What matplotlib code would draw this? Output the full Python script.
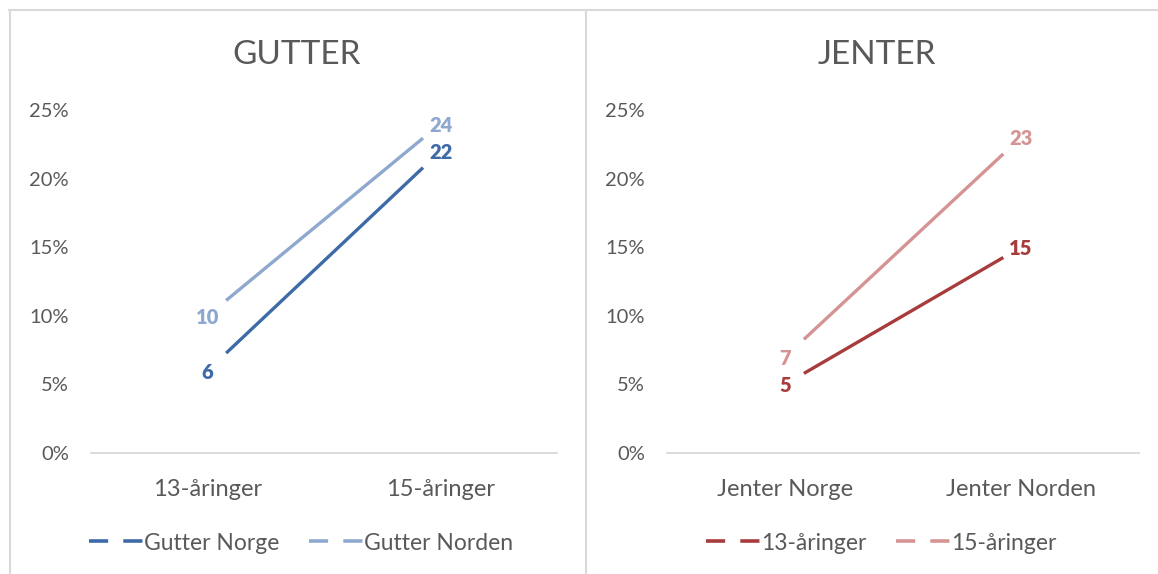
import matplotlib
matplotlib.use("Agg")
import matplotlib.pyplot as plt
from matplotlib.lines import Line2D
from matplotlib.ticker import FuncFormatter

plt.rcParams['font.family'] = ['Lato', 'DejaVu Sans']

# ---- data ----
gutter_categories = ["13-åringer", "15-åringer"]
gutter_norge = [6, 22]
gutter_norden = [10, 24]

jenter_categories = ["Jenter Norge", "Jenter Norden"]
jenter_13 = [5, 15]
jenter_15 = [7, 23]

y_ticks = [0, 5, 10, 15, 20, 25]

C_GN = "#3e6ba7"
C_GNo = "#8ea8cf"
C_J13 = "#a83b3b"
C_J15 = "#d69393"
TXT = "#595959"
GRID = "#d9d9d9"

W, H = 1158, 574
fig = plt.figure(figsize=(W / 100, H / 100), dpi=100)


def px_axes(x0, x1, ytop, ybot):
    return fig.add_axes([x0 / W, (H - ybot) / H, (x1 - x0) / W, (ybot - ytop) / H])


def draw_panel(ax, cats, series, colors):
    ax.set_xlim(-0.5, 1.5)
    ax.set_ylim(0, 25)
    ax.set_yticks(y_ticks)
    ax.yaxis.set_major_formatter(FuncFormatter(lambda v, p: f"{v:.0f}%"))
    ax.set_xticks(range(len(cats)))
    ax.set_xticklabels(cats)
    for s in ["top", "right", "left"]:
        ax.spines[s].set_visible(False)
    ax.spines["bottom"].set_color(GRID)
    ax.spines["bottom"].set_linewidth(1.3)
    ax.tick_params(axis="both", length=0, colors=TXT)
    ax.tick_params(axis="y", labelsize=14.5, pad=16)
    ax.tick_params(axis="x", labelsize=17, pad=19)
    t0, t1 = 0.08, 0.925
    for vals, col in zip(series, colors):
        xa, xb = 0, 1
        ya, yb = vals[0], vals[1]
        xs = [xa + t0 * (xb - xa), xa + t1 * (xb - xa)]
        ys = [ya + t0 * (yb - ya), ya + t1 * (yb - ya)]
        ax.plot(xs, ys, color=col, lw=2.4, solid_capstyle="butt")
        for xi, v in enumerate(vals):
            ax.text(xi, v, f"{v}", color=col, fontsize=14.5, fontweight="heavy",
                    ha="center", va="center_baseline")
    ax.patch.set_alpha(0)


axL = px_axes(91, 557, 110, 453)
draw_panel(axL, gutter_categories, [gutter_norge, gutter_norden], [C_GN, C_GNo])
axR = px_axes(667, 1139, 110, 453)
draw_panel(axR, jenter_categories, [jenter_13, jenter_15], [C_J13, C_J15])

fig.text(297 / W, 1 - 55 / H, "GUTTER", fontsize=24, color=TXT, ha="center", va="center")
fig.text(877 / W, 1 - 55 / H, "JENTER", fontsize=24, color=TXT, ha="center", va="center")


def legend(labels, colors, cx):
    handles = [Line2D([0], [0], color=c, lw=2.6, dashes=(5.3, 4.2)) for c in colors]
    fig.legend(handles, labels, loc="center", bbox_to_anchor=(cx / W, 1 - 543 / H),
               ncol=2, frameon=False, fontsize=16.5, labelcolor=TXT,
               handlelength=2.36, handletextpad=0.05, columnspacing=1.3)


legend(["Gutter Norge", "Gutter Norden"], [C_GN, C_GNo], 301)
legend(["13-åringer", "15-åringer"], [C_J13, C_J15], 881)

# panel borders
fig.add_artist(Line2D([9.5 / W, 9.5 / W], [1 - 10 / H, 0], transform=fig.transFigure, color=GRID, lw=1.5))
fig.add_artist(Line2D([9 / W, 1], [1 - 10 / H, 1 - 10 / H], transform=fig.transFigure, color=GRID, lw=1.5))
fig.add_artist(Line2D([585.5 / W, 585.5 / W], [1 - 10 / H, 0], transform=fig.transFigure, color=GRID, lw=1.5))

fig.savefig("out.png", dpi=100, facecolor="white")
